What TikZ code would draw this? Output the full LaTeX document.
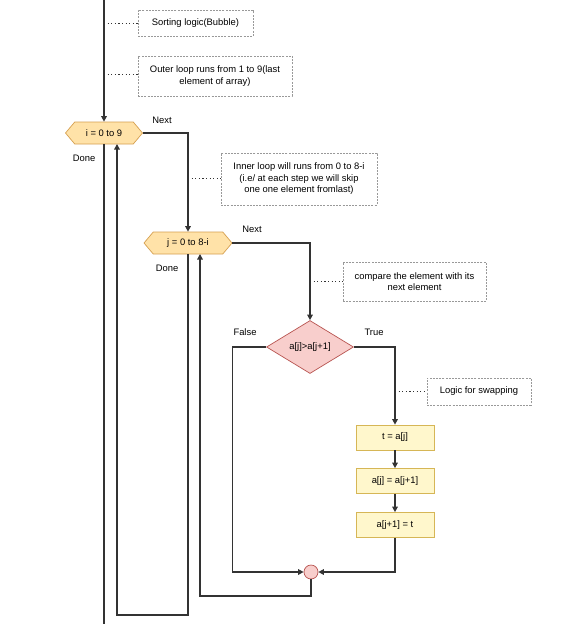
\documentclass[tikz,border=0pt]{standalone}
\usepackage{fontspec}
\setmainfont{Liberation Sans}
\usetikzlibrary{shapes.geometric,shapes.symbols,arrows.meta}
\definecolor{lineC}{HTML}{333333}
\definecolor{hexF}{HTML}{FFE2A8}
\definecolor{hexD}{HTML}{D6A050}
\definecolor{pinkF}{HTML}{F8CECC}
\definecolor{pinkD}{HTML}{B85450}
\definecolor{yelF}{HTML}{FFF7CC}
\definecolor{yelD}{HTML}{D6B656}
\definecolor{noteD}{HTML}{999999}
\tikzset{
  every node/.style={font=\fontsize{9.4}{11.5}\selectfont, text=black},
  arr/.style={draw=lineC, line width=1.6pt, -{Triangle[length=5.5pt,width=5.5pt]}},
  ln/.style={draw=lineC, line width=1.6pt},
  hexnode/.style={shape=signal, signal to=west and east, signal pointer angle=100, fill=hexF, draw=hexD, line width=0.7pt, minimum width=77pt, minimum height=22pt, inner sep=0pt},
  decnode/.style={diamond, aspect=1.64, fill=pinkF, draw=pinkD, line width=0.7pt, minimum width=87pt, minimum height=53pt, inner sep=0pt},
  procnode/.style={rectangle, fill=yelF, draw=yelD, line width=0.7pt, minimum width=78pt, minimum height=25pt, inner sep=0pt},
  merge/.style={circle, fill=pinkF, draw=pinkD, line width=0.7pt, minimum size=14pt, inner sep=0pt},
  note/.style={rectangle, draw=noteD, dash pattern=on 2pt off 1.2pt, line width=0.6pt, align=center, inner sep=0pt},
  dotl/.style={draw=lineC, line width=0.9pt, dash pattern=on 1.2pt off 2.4pt},
  lbl/.style={inner sep=0pt}
}
\begin{document}
\begin{tikzpicture}[x=1pt,y=-1pt]
\useasboundingbox (0,0) rectangle (580,624);
\fill[white] (0,0) rectangle (580,624);
% nodes
\node[hexnode] (i) at (104,133) {i = 0 to 9};
\node[hexnode, minimum width=88pt] (j) at (188,243) {j = 0 to 8-i};
\node[decnode] (d) at (310,347) {a[j]>a[j+1]};
\node[procnode] (b1) at (395,437.5) {t = a[j]};
\node[procnode] (b2) at (395,481) {a[j] = a[j+1]};
\node[procnode] (b3) at (395,525) {a[j+1] = t};
\node[merge] (m) at (311,572) {};
\coordinate (top) at (104,0);
\coordinate (bot) at (104,624);
% notes
\node[note, minimum width=115pt, minimum height=26pt] (n1) at (195.5,23) {Sorting logic(Bubble)};
\node[note, minimum width=154pt, minimum height=40pt] (n2) at (215,76) {Outer loop runs from 1 to 9(last\\element of array)};
\node[note, minimum width=156pt, minimum height=52pt] (n3) at (299,179) {Inner loop will runs from 0 to 8-i\\(i.e/ at each step we will skip\\one one element fromlast)};
\node[note, minimum width=143pt, minimum height=39pt] (n4) at (414.5,281.5) {compare the element with its\\next element};
\node[note, minimum width=104pt, minimum height=27pt] (n5) at (479,391.5) {Logic for swapping};
% labels
\node[lbl] (l1) at (162,120) {Next};
\node[lbl] (l2) at (84,158) {Done};
\node[lbl] (l3) at (252,229) {Next};
\node[lbl] (l4) at (167,268) {Done};
\node[lbl] (l5) at (245,332) {False};
\node[lbl] (l6) at (374,332) {True};
% connectors
\draw[arr] (top) -- (i.north);
\draw[ln] (i.south) -- (bot);
\draw[arr] (i.east) -| (j.north);
\draw[arr] (j.east) -| (d.north);
\draw[arr] (d.east) -| (b1.north);
\draw[arr] (b1) -- (b2);
\draw[arr] (b2) -- (b3);
\draw[arr] (b3.south) |- (m.east);
\draw[arr] (d.west) -- ++(-33.5,0) |- (m.west);
\draw[arr] (m.south) |- (200,596) -- (200,254);
\draw[arr] (j.south) |- (117,615) -- (117,144);
% dotted note connectors
\draw[dotl] (104,23) -- (n1.west);
\draw[dotl] (104,74) -- (n2.west |- 0,74);
\draw[dotl] (188,178) -- (n3.west |- 0,178);
\draw[dotl] (310,281) -- (n4.west |- 0,281);
\draw[dotl] (395,391) -- (n5.west |- 0,391);
\end{tikzpicture}
\end{document}
